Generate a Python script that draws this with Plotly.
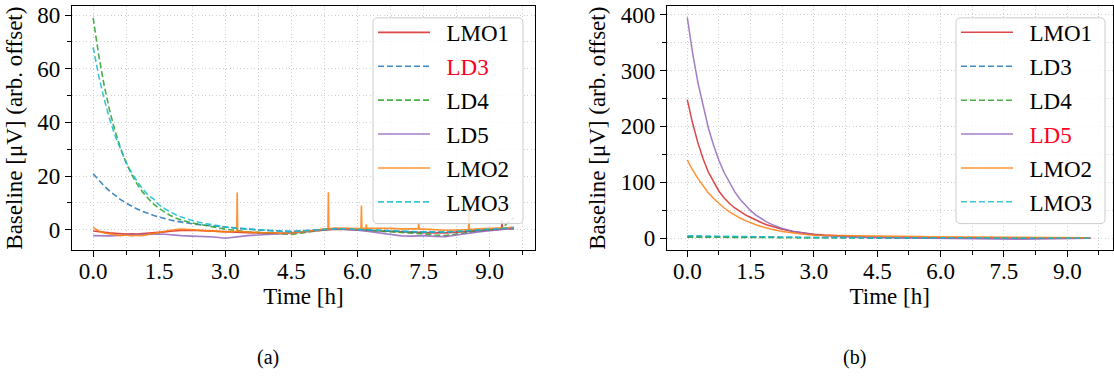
import plotly.graph_objects as go

# ---------------- data ----------------
T = [0.0, 0.125, 0.25, 0.375, 0.5, 0.625, 0.75, 0.875, 1.0, 1.125, 1.25, 1.375,
     1.5, 1.625, 1.75, 1.875, 2.0, 2.25, 2.5, 2.75, 3.0,
     3.25, 3.5, 3.75, 4.0, 4.25, 4.5, 4.75, 5.0, 5.25, 5.5, 5.75, 6.0, 6.25,
     6.5, 6.75, 7.0, 7.25, 7.5, 7.75, 8.0, 8.25, 8.5, 8.75, 9.0, 9.25, 9.55]

# panel (a)
LMO1_A = [-0.5, -0.8, -1.0, -1.2, -1.3, -1.5, -1.6, -1.5, -1.6, -1.4, -1.3, -1.2, -1.0, -0.8, -0.6, -0.4, -0.3, -0.2, -0.4, -0.7, -0.9,
          -1.0, -1.1, -1.2, -1.3, -1.3, -1.2, -0.9, -0.5, -0.1, 0.2, 0.1, -0.1, -0.3, -0.5, -0.7, -0.9, -1.0, -1.1, -1.2, -1.2, -0.9, -0.6, -0.3, 0.0, 0.3, 0.4]
LD3_A = [20.8, 18.5, 16.3, 14.4, 12.7, 11.2, 9.9, 8.7, 7.7, 6.8, 6.0, 5.3, 4.7, 4.1, 3.6, 3.2, 2.8, 2.2, 1.7, 1.3, 0.9,
         0.5, 0.2, -0.1, -0.3, -0.5, -0.6, -0.4, -0.2, 0.1, 0.3, 0.2, 0.0, -0.2, -0.4, -0.5, -0.7, -0.8, -0.9, -1.0, -0.9, -0.7, -0.4, -0.2, 0.0, 0.3, 0.5]
LD4_A = [79.0, 65.2, 53.8, 44.4, 36.6, 30.2, 24.9, 20.5, 17.0, 14.0, 11.6, 9.5, 7.9, 6.5, 5.3, 4.4, 3.6, 2.5, 1.7, 1.0, 0.2,
         -0.3, -0.8, -1.0, -1.3, -1.6, -1.8, -1.2, -0.5, 0.0, 0.3, 0.2, 0.0, -0.3, -0.6, -0.9, -1.1, -1.3, -1.5, -2.0, -2.2, -1.6, -1.0, -0.5, -0.2, 0.3, 4.5]
LD5_A = [-2.2, -2.3, -2.4, -2.3, -2.2, -2.0, -1.9, -1.8, -1.8, -1.7, -1.6, -1.5, -1.6, -1.7, -1.9, -2.1, -2.2, -2.4, -2.6, -2.7, -3.2,
         -2.6, -2.2, -2.0, -1.8, -1.5, -1.3, -0.8, -0.3, 0.1, 0.4, 0.2, -0.2, -0.7, -1.2, -1.8, -2.3, -2.4, -2.2, -2.5, -2.6, -2.0, -1.3, -0.8, -0.4, -0.1, 0.5]
LMO2_A = [0.8, -0.5, -1.2, -1.6, -1.9, -2.2, -2.0, -2.3, -2.1, -2.2, -1.8, -1.5, -1.0, -0.6, -0.2, 0.1, 0.2, 0.0, -0.3, -0.6, -0.8,
          -0.6, -0.9, -1.1, -1.2, -1.3, -1.2, -0.8, -0.3, 0.3, 0.6, 0.5, 0.4, 0.6, 0.4, 0.5, 0.3, 0.4, 0.2, 0.0, -0.2, -0.1, 0.2, 0.3, 0.5, 0.6, 0.9]
LMO3_A = [68.0, 57.5, 48.7, 41.2, 34.9, 29.6, 25.0, 21.2, 17.9, 15.2, 12.8, 11.4, 9.2, 7.8, 6.6, 5.6, 4.7, 3.4, 2.4, 1.6, 1.0,
          0.5, 0.2, -0.2, -0.5, -0.6, -0.8, -0.5, -0.2, 0.2, 0.4, 0.3, 0.1, -0.1, -0.3, -0.4, -0.6, -0.7, -0.8, -0.9, -0.9, -0.6, -0.3, -0.1, 0.2, 0.4, 0.8]

# short spikes in panel (a)
LMO2_SPIKE_T = [3.26, 3.27, 3.28, 5.33, 5.34, 5.35, 6.08, 6.09, 6.10, 6.19, 6.20, 6.21,
                7.38, 7.39, 7.40, 8.52, 8.53, 8.54]
LMO2_SPIKE_V = [-0.6, 13.9, -0.6, 0.3, 14.0, 0.3, 0.4, 9.0, 0.4, 0.6, 2.0, 0.6,
                0.3, 2.8, 0.3, 0.1, 8.3, 0.1]
LMO1_SPIKE_T = [9.27, 9.28, 9.29]
LMO1_SPIKE_V = [0.2, 3.4, 0.2]

# panel (b)
LMO1_B = [248, 206, 171, 142, 118, 100, 84, 72, 62, 54, 47, 41.5, 37, 32, 28, 24, 21, 16, 12, 9, 7,
          5.5, 4.3, 3.4, 2.7, 2.2, 1.8, 1.5, 1.3, 1.1, 1.0, 0.9, 0.8, 0.7, 0.7, 0.6, 0.6, 0.5, 0.5, 0.4, 0.4, 0.4, 0.3, 0.3, 0.3, 0.2, 0.2]
LD3_B = [3.0, 2.9, 2.8, 2.7, 2.5, 2.4, 2.3, 2.2, 2.0, 1.9, 1.8, 1.7, 1.6, 1.5, 1.4, 1.3, 1.2, 1.1, 1.0, 0.9, 0.8,
         0.7, 0.7, 0.6, 0.6, 0.5, 0.5, 0.5, 0.4, 0.4, 0.4, 0.3, 0.3, 0.3, 0.3, 0.2, 0.2, 0.2, 0.2, 0.2, 0.1, 0.1, 0.1, 0.1, 0.1, 0.1, 0.0]
LD4_B = [1.8, 1.7, 1.7, 1.6, 1.5, 1.5, 1.4, 1.3, 1.3, 1.2, 1.2, 1.1, 1.1, 1.0, 1.0, 0.9, 0.9, 0.8, 0.8, 0.7, 0.7,
         0.6, 0.6, 0.5, 0.5, 0.5, 0.4, 0.4, 0.4, 0.3, 0.3, 0.3, 0.3, 0.2, 0.2, 0.2, 0.2, 0.1, 0.1, 0.1, 0.1, 0.0, 0.0, 0.0, 0.0, 0.0, 0.0]
LD5_B = [395, 332, 279, 235, 197, 166, 139, 117, 98.5, 82.8, 69.6, 58.5, 49.2, 41.4, 34.8, 29.2, 24.6, 17.4, 12.3, 8.7, 6.1,
         4.3, 3.1, 2.2, 1.5, 1.1, 0.8, 0.5, 0.3, 0.2, 0.0, -0.2, -0.4, -0.6, -0.9, -1.2, -1.5, -1.8, -2.0, -2.1, -2.0, -1.8, -1.4, -1.0, -0.6, -0.3, 0.0]
LMO2_B = [140, 122, 107, 93, 81, 71, 62, 54, 47.2, 41.2, 36, 31.4, 27.4, 23.9, 20.9, 18.2, 15.9, 12.1, 9.2, 7.0, 5.4,
          5.0, 4.8, 4.5, 4.3, 4.0, 3.8, 3.5, 3.2, 3.0, 2.8, 2.6, 2.5, 2.3, 2.2, 2.0, 1.9, 1.8, 1.6, 1.5, 1.4, 1.3, 1.1, 1.0, 0.9, 0.8, 0.6]
LMO3_B = [4.5, 4.3, 4.1, 3.9, 3.7, 3.5, 3.3, 3.1, 2.9, 2.7, 2.6, 2.4, 2.3, 2.1, 2.0, 1.9, 1.8, 1.6, 1.4, 1.3, 1.2,
          1.1, 1.0, 0.9, 0.9, 0.8, 0.7, 0.7, 0.6, 0.6, 0.5, 0.5, 0.5, 0.4, 0.4, 0.4, 0.3, 0.3, 0.3, 0.3, 0.2, 0.2, 0.2, 0.2, 0.2, 0.1, 0.1]

NAMES = ["LMO1", "LD3", "LD4", "LD5", "LMO2", "LMO3"]
COLORS = ["#d62728", "#1f77b4", "#2ca02c", "#9467bd", "#ff7f0e", "#17becf"]
DASHES = ["solid", "6px,3px", "6px,3px", "solid", "solid", "6px,3px"]
HIGHLIGHT_A = "LD3"
HIGHLIGHT_B = "LD5"

# ---------------- figure ----------------
W, H = 1114, 377
FONT = "Liberation Serif, Times New Roman, serif"
FS = 23


def merged(ts, vs, ets, evs):
    pts = sorted(list(zip(ts, vs)) + list(zip(ets, evs)))
    return [p[0] for p in pts], [p[1] for p in pts]


SERIES_A = [merged(T, LMO1_A, LMO1_SPIKE_T, LMO1_SPIKE_V), (T, LD3_A), (T, LD4_A), (T, LD5_A),
            merged(T, LMO2_A, LMO2_SPIKE_T, LMO2_SPIKE_V), (T, LMO3_A)]
SERIES_B = [(T, LMO1_B), (T, LD3_B), (T, LD4_B), (T, LD5_B), (T, LMO2_B), (T, LMO3_B)]

fig = go.Figure()


def label(name, hl):
    pad = "\u00a0\u00a0"
    if name == hl:
        return pad + '<span style="color:#ff0022">%s</span>' % name
    return pad + name


for i, (xs, ys) in enumerate(SERIES_A):
    fig.add_trace(go.Scatter(x=xs, y=ys, mode="lines", name=label(NAMES[i], HIGHLIGHT_A),
                             line=dict(color=COLORS[i], width=1.6, dash=DASHES[i]), opacity=0.85,
                             xaxis="x", yaxis="y", legend="legend", legendgroup="a%d" % i))
for i, (xs, ys) in enumerate(SERIES_B):
    fig.add_trace(go.Scatter(x=xs, y=ys, mode="lines", name=label(NAMES[i], HIGHLIGHT_B),
                             line=dict(color=COLORS[i], width=1.5, dash=DASHES[i]), opacity=0.85,
                             xaxis="x2", yaxis="y2", legend="legend2", legendgroup="b%d" % i))

grid = dict(showgrid=True, gridcolor="#cdcdcd", gridwidth=1, griddash="1px,2.5px")
common_ax = dict(showline=True, linecolor="black", linewidth=1.2, mirror=True,
                 ticks="outside", ticklen=6, tickwidth=1.1, tickcolor="black",
                 tickfont=dict(family=FONT, size=FS, color="black"),
                 ticklabeloverflow="allow", zeroline=False, **grid)

xcommon = dict(common_ax, tick0=0, dtick=1.5, tickformat=".1f", ticklabelstandoff=-6,
               minor=dict(dtick=0.75, ticks="outside", ticklen=3.5, tickcolor="black", **grid),
               title=dict(text="Time [h]", font=dict(family=FONT, size=FS, color="black"), standoff=4))

ytitle = dict(text="Baseline [μV] (arb. offset)", font=dict(family=FONT, size=FS, color="black"), standoff=8)

legend_common = dict(xanchor="left", yanchor="top", y=1 - 8 / H,
                     bgcolor="rgba(0,0,0,0)", borderwidth=0,
                     font=dict(family=FONT, size=FS, color="black"), itemwidth=52,
                     tracegroupgap=1)


def legend_box(x0, x1, y0, y1, r=5):
    # rounded legend frame in pixel units converted to paper coords
    def px(x):
        return x / W

    def py(y):
        return 1 - y / H

    path = ("M {a},{b} L {c},{b} Q {x1},{b} {x1},{d} L {x1},{e} Q {x1},{f} {c},{f} "
            "L {a},{f} Q {x0},{f} {x0},{e} L {x0},{d} Q {x0},{b} {a},{b} Z").format(
        a=px(x0 + r), c=px(x1 - r), b=py(y0), d=py(y0 + r), e=py(y1 - r), f=py(y1),
        x0=px(x0), x1=px(x1))
    return dict(type="path", xref="paper", yref="paper", path=path, layer="above",
                fillcolor="rgba(255,255,255,0.8)", line=dict(color="#cccccc", width=1))


fig.update_layout(
    width=W, height=H, margin=dict(l=0, r=0, t=0, b=0),
    paper_bgcolor="white", plot_bgcolor="white",
    xaxis=dict(xcommon, domain=[72 / W, 535 / W], range=[-0.48, 10.03], anchor="y"),
    yaxis=dict(common_ax, domain=[1 - 250 / H, 1 - 3 / H], range=[-7.7, 83.4], dtick=20,
               minor=dict(dtick=10, ticks="outside", ticklen=3.5, tickcolor="black", **grid),
               title=ytitle, anchor="x"),
    xaxis2=dict(xcommon, domain=[667 / W, 1112.5 / W], range=[-0.48, 10.07], anchor="y2"),
    yaxis2=dict(common_ax, domain=[1 - 250 / H, 1 - 3 / H], range=[-21.8, 415.5], dtick=100,
                minor=dict(dtick=50, ticks="outside", ticklen=3.5, tickcolor="black", **grid),
                title=ytitle, anchor="x2"),
    legend=dict(legend_common, x=373 / W),
    legend2=dict(legend_common, x=956 / W),
    shapes=[legend_box(373, 523, 15, 223), legend_box(956, 1105, 15, 223)],
    annotations=[
        dict(text="(a)", x=268 / W, y=1 - 358 / H, xref="paper", yref="paper", showarrow=False,
             font=dict(family=FONT, size=20, color="black"), xanchor="center", yanchor="middle"),
        dict(text="(b)", x=854 / W, y=1 - 358 / H, xref="paper", yref="paper", showarrow=False,
             font=dict(family=FONT, size=20, color="black"), xanchor="center", yanchor="middle"),
    ],
)

fig.write_html("out.html", config={"displayModeBar": False},
               post_script="document.body.style.margin='0';document.body.style.padding='0';")
